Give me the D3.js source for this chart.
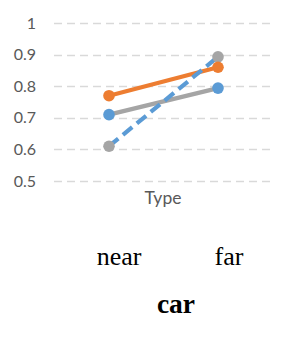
<!DOCTYPE html>
<html><head><meta charset="utf-8">
<script src="https://cdn.jsdelivr.net/npm/d3@7"></script>
<style>body{margin:0;background:#fff}svg{display:block}</style>
</head><body>
<script>
const categories = ["near", "far"];
const yTicks = [0.5, 0.6, 0.7, 0.8, 0.9, 1];
const seriesOrange = [0.77, 0.86];
const seriesGrayLine = [0.71, 0.794];
const seriesBlueDash = [0.61, 0.893];
const axisTitle = "Type";
const groupTitle = "car";

const W = 302, H = 339;
const svg = d3.select("body").append("svg").attr("width", W).attr("height", H);
const x = d3.scalePoint().domain(categories).range([109, 218]);
const y = d3.scaleLinear().domain([0.5, 1]).range([181, 23]);

// gridlines
svg.append("g").selectAll("line").data(yTicks).join("line")
  .attr("x1", 54).attr("x2", 272)
  .attr("y1", d => Math.round(y(d)) + 0.5).attr("y2", d => Math.round(y(d)) + 0.5)
  .attr("stroke", "#d9d9d9").attr("stroke-width", 1.3).attr("stroke-dasharray", "8,5");

// y tick labels
svg.append("g").selectAll("text").data(yTicks).join("text")
  .attr("x", 36).attr("y", d => y(d) + 5.5)
  .attr("text-anchor", "end").attr("font-family", "Lato, 'Open Sans', sans-serif")
  .attr("font-size", 16).attr("fill", "#595959")
  .text(d => d3.format("")(d));

svg.append("text").attr("x", 163).attr("y", 204).attr("text-anchor", "middle")
  .attr("font-family", "Lato, 'Open Sans', sans-serif").attr("font-size", 17.5).attr("fill", "#595959")
  .text(axisTitle);

svg.append("g").selectAll("text").data(categories).join("text")
  .attr("x", (d, i) => x(d) + (i === 0 ? 10 : 11)).attr("y", 265).attr("text-anchor", "middle")
  .attr("font-family", "'Liberation Serif', 'DejaVu Serif', serif").attr("font-size", 26).attr("fill", "#000")
  .text(d => d);

svg.append("text").attr("x", 176).attr("y", 313).attr("text-anchor", "middle")
  .attr("font-family", "'Liberation Serif', 'DejaVu Serif', serif").attr("font-size", 27.5)
  .attr("font-weight", "bold").attr("fill", "#000").text(groupTitle);

const line = d3.line().x((d, i) => x(categories[i])).y(d => y(d));
const series = [
  {vals: seriesOrange, line: "#ED7D31", mark: "#ED7D31", dash: null},
  {vals: seriesGrayLine, line: "#A5A5A5", mark: "#5B9BD5", dash: null},
  {vals: seriesBlueDash, line: "#5B9BD5", mark: "#A5A5A5", dash: "12,6"}
];
series.forEach(s => {
  svg.append("path").datum(s.vals).attr("d", line).attr("fill", "none")
    .attr("stroke", s.line).attr("stroke-width", 4.2).attr("stroke-dasharray", s.dash);
});
[series[2], series[1], series[0]].forEach(s => {
  svg.append("g").selectAll("circle").data(s.vals).join("circle")
    .attr("cx", (d, i) => x(categories[i])).attr("cy", d => y(d)).attr("r", 5.8)
    .attr("fill", s.mark);
});
</script>
</body></html>
